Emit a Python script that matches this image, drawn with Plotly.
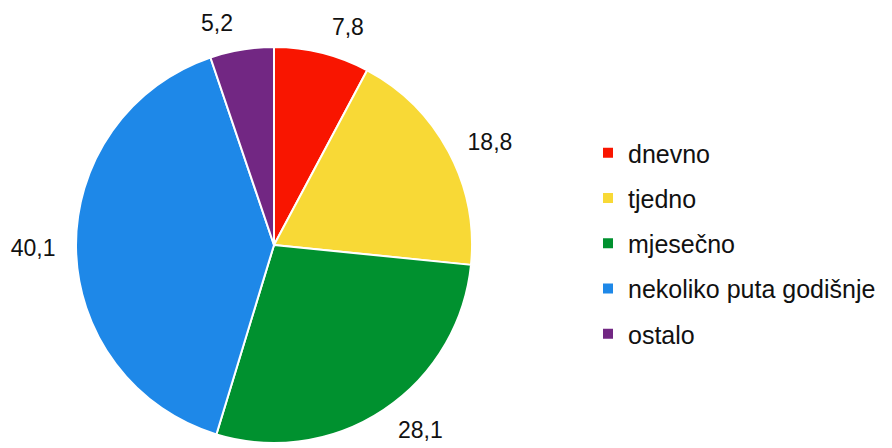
import plotly.graph_objects as go

labels = ["dnevno", "tjedno", "mjesečno", "nekoliko puta godišnje", "ostalo"]
values = [7.8, 18.8, 28.1, 40.1, 5.2]
colors = ["#f91500", "#f8d936", "#00912f", "#1e88e8", "#722783"]

W, H = 892, 470
FONT = "Liberation Sans, Arial, sans-serif"
TXT = "#111111"

# pie centre and radius in pixels (page has an 8px body margin)
cx, cy, r = 266, 237, 198
r_lab = 212  # invisible pie that carries the outside value labels


def dom(rad):
    return dict(x=[(cx - rad) / W, (cx + rad) / W], y=[(H - cy - rad) / H, (H - cy + rad) / H])


fig = go.Figure()

# transparent, slightly larger pie only used to push value labels outward
fig.add_trace(
    go.Pie(
        labels=labels,
        values=values,
        sort=False,
        direction="clockwise",
        rotation=0,
        marker=dict(colors=["rgba(0,0,0,0)"] * len(values), line=dict(width=0)),
        texttemplate="%{value:.1f}",
        textposition="outside",
        textfont=dict(family=FONT, size=23, color=TXT),
        domain=dom(r_lab),
        hoverinfo="skip",
        showlegend=False,
    )
)

fig.add_trace(
    go.Pie(
        labels=labels,
        values=values,
        sort=False,
        direction="clockwise",
        rotation=0,
        marker=dict(colors=colors, line=dict(color="white", width=2)),
        textinfo="none",
        domain=dom(r),
        hoverinfo="label+value",
        showlegend=False,
    )
)

# legend entries, one legend each so the spacing can match
legend_layout = {}
for i, (lab, col) in enumerate(zip(labels, colors)):
    key = "legend" if i == 0 else f"legend{i + 1}"
    fig.add_trace(
        go.Scatter(
            x=[None],
            y=[None],
            mode="markers",
            name=lab,
            marker=dict(symbol="square", size=10, color=col),
            legend=key,
            showlegend=True,
        )
    )
    legend_layout[key] = dict(
        x=580 / W,
        y=(H - (145 + 45.25 * i)) / H,
        xanchor="left",
        yanchor="middle",
        font=dict(family=FONT, size=25, color=TXT),
        bgcolor="rgba(0,0,0,0)",
    )

fig.update_layout(
    width=W,
    height=H,
    separators=",.",
    paper_bgcolor="white",
    plot_bgcolor="white",
    margin=dict(l=0, r=0, t=0, b=0, autoexpand=False),
    font=dict(family=FONT, color=TXT),
    xaxis=dict(visible=False),
    yaxis=dict(visible=False),
    **legend_layout,
)

fig.write_html("out.html")
